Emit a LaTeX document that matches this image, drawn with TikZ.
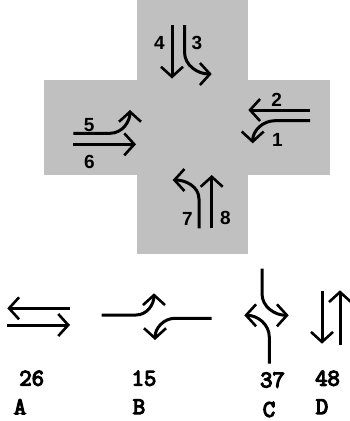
\documentclass[tikz,border=0pt]{standalone}
\usepackage{fontspec}
\setmainfont{Liberation Sans}
\newfontfamily\courfont[FakeBold=5]{Latin Modern Mono}
\usetikzlibrary{arrows.meta}
\definecolor{roadgray}{HTML}{C0C0C0}
\tikzset{
  lane/.style={line width=3pt, -{Straight Barb[length=10pt,width=22pt,line width=2.6pt]}},
  num/.style={inner sep=0pt, font=\fontsize{19}{19}\selectfont\bfseries},
  phase/.style={inner sep=0pt, font=\fontsize{24}{24}\selectfont\courfont},
}
\begin{document}
\begin{tikzpicture}[x=1pt,y=-1pt]
\useasboundingbox (0,0) rectangle (349,421);
% road cross
\fill[roadgray] (136.7,0) rectangle (248.3,254);
\fill[roadgray] (44,80) rectangle (330,175);
% north approach
\draw[lane] (172,25) -- (172,78.5);
\draw[lane] (184.5,25) -- (184.5,52) to[out=-90,in=180] (211.7,74);
\node[num] (n4) at (159.5,43) {4};
\node[num] (n3) at (197,43) {3};
% east approach
\draw[lane] (310,110) -- (248.3,110);
\draw[lane] (310,120.7) -- (275,120.7) to[out=180,in=90] (252.7,143.3);
\node[num] (n2) at (276.7,99.7) {2};
\node[num] (n1) at (277.5,139.7) {1};
% west approach
\draw[lane] (73.3,133.3) -- (110,133.3) to[out=0,in=-90] (130,110);
\draw[lane] (73.3,144.3) -- (136,144.3);
\node[num] (n5) at (89.2,125) {5};
\node[num] (n6) at (89.5,161.7) {6};
% south approach
\draw[lane] (211.7,228.3) -- (211.7,175);
\draw[lane] (199,228.3) -- (199,199) to[out=90,in=0] (172.7,180);
\node[num] (n7) at (187.5,218.5) {7};
\node[num] (n8) at (225.5,218) {8};
% phase A
\draw[lane] (70,308.3) -- (7.3,308.3);
\draw[lane] (7.3,325) -- (70,325);
% phase B
\draw[lane] (101.7,315) -- (136,315) to[out=0,in=-90] (154,293.3);
\draw[lane] (211.7,318.3) -- (175,318.3) to[out=180,in=90] (155,340);
% phase C
\draw[lane] (262,268.7) -- (262,293.7) to[out=-90,in=180] (288.7,315.3);
\draw[lane] (269.3,363.7) -- (269.3,337) to[out=90,in=0] (244.3,315.3);
% phase D
\draw[lane] (322,291.3) -- (322,343.7);
\draw[lane] (340,344.7) -- (340,290.3);
% labels
\node[phase] (p26) at (31.7,378.3) {26};
\node[phase] (pA) at (20,406.7) {A};
\node[phase] (p15) at (144,378.3) {15};
\node[phase] (pB) at (139,406.7) {B};
\node[phase] (p37) at (272.5,380) {37};
\node[phase] (pC) at (269,409.5) {C};
\node[phase] (p48) at (327.5,378.3) {48};
\node[phase] (pD) at (322,406.7) {D};
\end{tikzpicture}
\end{document}
